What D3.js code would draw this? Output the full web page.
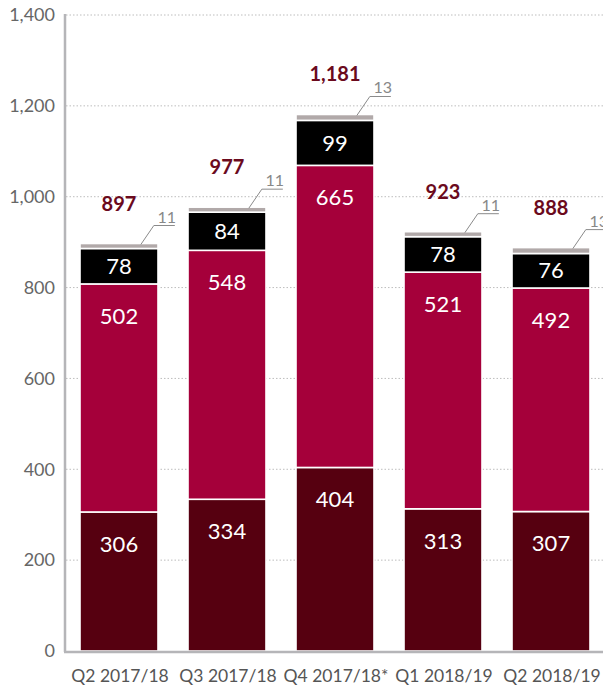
<!DOCTYPE html>
<html>
<head>
<meta charset="utf-8">
<script src="https://cdn.jsdelivr.net/npm/d3@7"></script>
<style>
  html, body { margin: 0; padding: 0; background: #fff; }
  svg { display: block; font-family: "Lato", "Open Sans", sans-serif; }
</style>
</head>
<body>
<svg id="chart" width="603" height="688"></svg>
<script>
// Quarterly stacked totals, bottom segment first
const quarters = ["Q2 2017/18", "Q3 2017/18", "Q4 2017/18*", "Q1 2018/19", "Q2 2018/19"];
const seriesA = [306, 334, 404, 313, 307];   // dark maroon base
const seriesB = [502, 548, 665, 521, 492];   // crimson
const seriesC = [78, 84, 99, 78, 76];        // black
const seriesD = [11, 11, 13, 11, 13];        // grey cap (called out)
const totals  = [897, 977, 1181, 923, 888];
const yTicks  = [0, 200, 400, 600, 800, 1000, 1200, 1400];

const colors = ["#560010", "#a5003a", "#000000", "#b1a9a9"];
const series = [seriesA, seriesB, seriesC, seriesD];

const svg = d3.select("#chart");
const x = d3.scaleBand().domain(quarters).range([65, 605]).paddingInner(0.278).paddingOuter(0.139);
const y = d3.scaleLinear().domain([0, 1400]).range([651, 15]);

// dotted gridlines
svg.append("g").selectAll("line").data(yTicks.filter(d => d > 0)).join("line")
  .attr("x1", 66).attr("x2", 603)
  .attr("y1", d => y(d)).attr("y2", d => y(d))
  .attr("stroke", "#bdbdbd").attr("stroke-width", 1).attr("stroke-dasharray", "1.5,2");

// y axis labels
const yAxis = d3.axisLeft(y).tickValues(yTicks).tickFormat(d3.format(",")).tickSize(0).tickPadding(10);
const ya = svg.append("g").attr("transform", "translate(65,0)").call(yAxis);
ya.select(".domain").remove();
ya.selectAll("text").attr("font-size", 18).attr("fill", "#666")
  .attr("font-family", "Lato, sans-serif");

// stacked data
const rows = quarters.map((q, i) => {
  const r = { q };
  series.forEach((s, k) => r["s" + k] = s[i]);
  return r;
});
const stack = d3.stack().keys(["s0", "s1", "s2", "s3"])(rows);

const layers = svg.append("g").selectAll("g").data(stack).join("g")
  .attr("fill", (d, i) => colors[i]);

layers.selectAll("rect").data(d => d).join("rect")
  .attr("x", d => x(d.data.q))
  .attr("width", x.bandwidth())
  .attr("y", d => y(d[1]))
  .attr("height", d => y(d[0]) - y(d[1]))
  .attr("stroke", "#fff").attr("stroke-width", 1.6);

// value labels inside the three main segments
stack.slice(0, 3).forEach(layer => {
  svg.append("g").selectAll("text").data(layer).join("text")
    .attr("x", d => x(d.data.q) + x.bandwidth() / 2)
    .attr("y", d => {
      const segTop = y(d[1]), h = y(d[0]) - y(d[1]);
      return segTop + Math.min(h / 2, 32);
    })
    .attr("dy", "0.35em")
    .attr("text-anchor", "middle")
    .attr("fill", "#fff")
    .attr("font-size", 22)
    .text(d => d[1] - d[0]);
});

// axes lines
svg.append("line").attr("x1", 65).attr("x2", 65).attr("y1", 14).attr("y2", 652)
  .attr("stroke", "#b5b5b8").attr("stroke-width", 2.5);
svg.append("line").attr("x1", 64).attr("x2", 603).attr("y1", 652).attr("y2", 652)
  .attr("stroke", "#b5b5b8").attr("stroke-width", 2.5);

// callouts for the thin grey cap
const capLayer = stack[3];
const call = svg.append("g");
capLayer.forEach((d, i) => {
  const x0 = x(d.data.q) + x.bandwidth() * 0.78;
  const y0 = y(d[1]) + 1;
  const x1 = x0 + 13, y1 = y0 - 19, x2 = x1 + 21;
  call.append("polyline")
    .attr("points", [[x0, y0], [x1, y1], [x2, y1]].map(p => p.join(",")).join(" "))
    .attr("fill", "none").attr("stroke", "#8a8a8a").attr("stroke-width", 1);
  call.append("text")
    .attr("x", x2 - 8).attr("y", y1 - 3)
    .attr("text-anchor", "middle")
    .attr("font-size", 16).attr("fill", "#888")
    .text(seriesD[i]);
});

// totals above each bar
svg.append("g").selectAll("text").data(quarters).join("text")
  .attr("x", q => x(q) + x.bandwidth() / 2)
  .attr("y", (q, i) => y(totals[i]) - 40)
  .attr("dy", "0.35em")
  .attr("text-anchor", "middle")
  .attr("font-size", 20).attr("font-weight", "bold").attr("fill", "#6b0a1d")
  .text((q, i) => d3.format(",")(totals[i]));

// category labels
svg.append("g").selectAll("text").data(quarters).join("text")
  .attr("x", q => x(q) + x.bandwidth() / 2 + 1)
  .attr("y", 676)
  .attr("dy", "0.35em")
  .attr("text-anchor", "middle")
  .attr("font-size", 17.5).attr("fill", "#555")
  .text(q => q);
</script>
</body>
</html>
